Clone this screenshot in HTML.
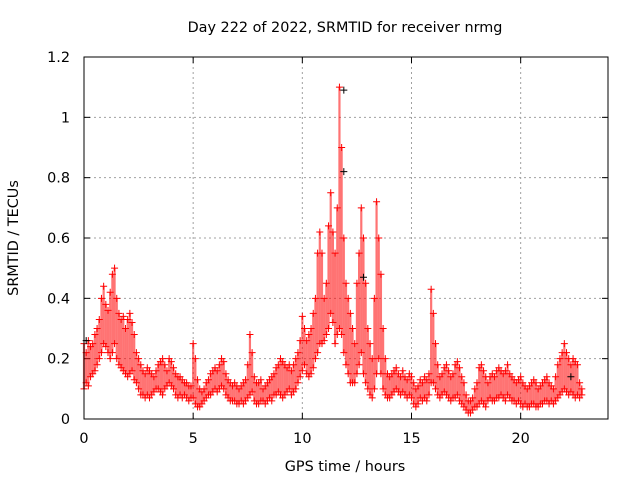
<!DOCTYPE html>
<html><head><meta charset="utf-8"><style>
body{margin:0;background:#fff}
svg{display:block;font-family:"DejaVu Sans","Liberation Sans",sans-serif}
</style></head><body>
<svg id="c" width="640" height="480">
<text x="345" y="32" font-size="14.4" text-anchor="middle">Day 222 of 2022, SRMTID for receiver nrmg</text>
<text x="345" y="471" font-size="14.4" text-anchor="middle">GPS time / hours</text>
<text transform="translate(18,238) rotate(-90)" font-size="14.4" text-anchor="middle">SRMTID / TECUs</text>
<g id="grid"></g><g id="marks"></g>
<rect x="84" y="57" width="524" height="362" fill="none" stroke="#000"/>
</svg>
<script>
const xTicks=[0,5,10,15,20];
const yTicks=[0,0.2,0.4,0.6,0.8,1,1.2];
const yTickLabels=["0","0.2","0.4","0.6","0.8","1","1.2"];
const t0=0, dt=0.1;
const hi=[.25,.22,.26,.24,.25,.28,.30,.33,.40,.44,
.38,.36,.42,.48,.50,.40,.35,.33,.34,.30,
.33,.35,.32,.28,.22,.20,.18,.16,.15,.17,
.16,.15,.14,.16,.18,.19,.20,.18,.16,.20,
.19,.17,.15,.14,.14,.13,.12,.12,.11,.11,
.25,.20,.13,.10,.09,.10,.12,.13,.15,.16,
.17,.16,.18,.20,.19,.15,.13,.12,.11,.12,
.11,.10,.11,.12,.13,.18,.28,.22,.14,.12,
.12,.13,.10,.11,.12,.13,.14,.15,.17,.18,
.20,.19,.18,.17,.18,.16,.18,.20,.22,.26,
.34,.30,.26,.28,.30,.35,.40,.55,.62,.55,
.40,.45,.64,.75,.62,.55,.70,1.10,.90,.60,
.45,.40,.35,.30,.25,.45,.55,.70,.60,.45,
.30,.25,.20,.40,.72,.60,.48,.30,.20,.15,
.14,.15,.16,.17,.15,.14,.16,.14,.13,.15,
.14,.12,.10,.11,.13,.12,.14,.13,.15,.43,
.35,.25,.18,.14,.15,.17,.18,.16,.14,.15,
.18,.19,.17,.14,.12,.08,.06,.06,.07,.10,
.12,.17,.18,.16,.14,.12,.14,.15,.14,.16,
.17,.16,.15,.16,.18,.15,.14,.13,.12,.13,
.14,.12,.11,.10,.11,.12,.13,.12,.10,.11,
.12,.13,.14,.12,.11,.10,.14,.18,.20,.22,
.25,.22,.20,.18,.20,.19,.18,.12,.10];
const lo=[.10,.12,.11,.14,.15,.16,.18,.20,.22,.25,
.24,.22,.20,.22,.25,.20,.18,.17,.16,.15,
.14,.15,.16,.13,.12,.10,.08,.08,.07,.08,
.07,.08,.09,.10,.10,.09,.08,.10,.11,.12,
.11,.10,.08,.07,.08,.07,.08,.07,.06,.07,
.07,.05,.04,.04,.05,.06,.07,.08,.08,.09,
.10,.09,.10,.11,.10,.08,.07,.06,.06,.06,
.05,.05,.06,.05,.06,.07,.08,.09,.06,.05,
.05,.06,.06,.05,.06,.07,.06,.08,.08,.09,
.08,.07,.08,.09,.10,.08,.09,.10,.12,.14,
.16,.18,.15,.14,.15,.17,.20,.22,.25,.25,
.26,.28,.30,.35,.32,.25,.28,.30,.28,.22,
.18,.15,.12,.12,.12,.15,.18,.22,.15,.12,
.10,.08,.07,.10,.15,.20,.15,.10,.08,.07,
.07,.08,.09,.10,.09,.08,.09,.08,.07,.08,
.07,.05,.04,.05,.07,.06,.07,.06,.08,.12,
.12,.10,.08,.07,.08,.09,.08,.07,.06,.07,
.07,.08,.06,.05,.04,.03,.02,.02,.03,.04,
.04,.05,.06,.05,.04,.06,.07,.06,.06,.07,
.07,.08,.07,.06,.08,.07,.06,.06,.05,.06,
.05,.04,.05,.04,.04,.05,.05,.04,.04,.05,
.05,.06,.06,.05,.06,.05,.06,.07,.08,.09,
.10,.09,.08,.09,.08,.07,.08,.07,.08];
const blackT=[11.9,11.9,12.8,0.1,22.3];
const blackV=[1.09,0.82,0.47,0.26,0.14];
const X=t=>84+t*(524/24);
const Y=v=>419-v*(362/1.2);
const NS="http://www.w3.org/2000/svg";
const grid=document.getElementById('grid'), marks=document.getElementById('marks');
function mk(tag,a,p){const e=document.createElementNS(NS,tag);for(const k in a)e.setAttribute(k,a[k]);p.appendChild(e);return e;}
xTicks.forEach(t=>{
  const x=X(t);
  if(t>0){const g=mk('line',{x1:x,x2:x,y1:57,y2:419,stroke:'#a0a0a0','stroke-dasharray':'2,3'},grid);
  
  }
  const l=mk('text',{x:x,y:443,'font-size':14.4,'text-anchor':'middle'},grid);l.textContent=t;
  
  
  mk('line',{x1:x,x2:x,y1:419,y2:413,stroke:'#000'},grid);mk('line',{x1:x,x2:x,y1:57,y2:63,stroke:'#000'},grid);
});
yTicks.forEach((v,i)=>{
  const y=Y(v);
  if(v>0&&v<1.2){const g=mk('line',{x1:84,x2:608,y1:y,y2:y,stroke:'#a0a0a0','stroke-dasharray':'2,3'},grid);
  
  }
  const l=mk('text',{x:70,y:y+5,'font-size':14.4,'text-anchor':'end'},grid);l.textContent=yTickLabels[i];
  
  
  mk('line',{x1:84,x2:90,y1:y,y2:y,stroke:'#000'},grid);mk('line',{x1:608,x2:602,y1:y,y2:y,stroke:'#000'},grid);
});
function plus(x,y,c,name){
  const p=mk('path',{d:`M${x-3.5},${y}h7M${x},${y-3.5}v7`,stroke:c,'stroke-width':1,fill:'none'},marks);
  
  
}
hi.forEach((v,i)=>{
  const x=X(t0+i*dt);
  const b=mk('line',{x1:x,x2:x,y1:Y(v),y2:Y(lo[i]),stroke:'#f00','stroke-width':2.2,'stroke-opacity':0.55},marks);
  
  
  plus(x,Y(v),'#f00','srmtid-point-high');
  plus(x,Y(lo[i]),'#f00','srmtid-point-low');
});
blackT.forEach((t,i)=>plus(X(t),Y(blackV[i]),'#000','srmtid-black-point'));
</script>
</body></html>
